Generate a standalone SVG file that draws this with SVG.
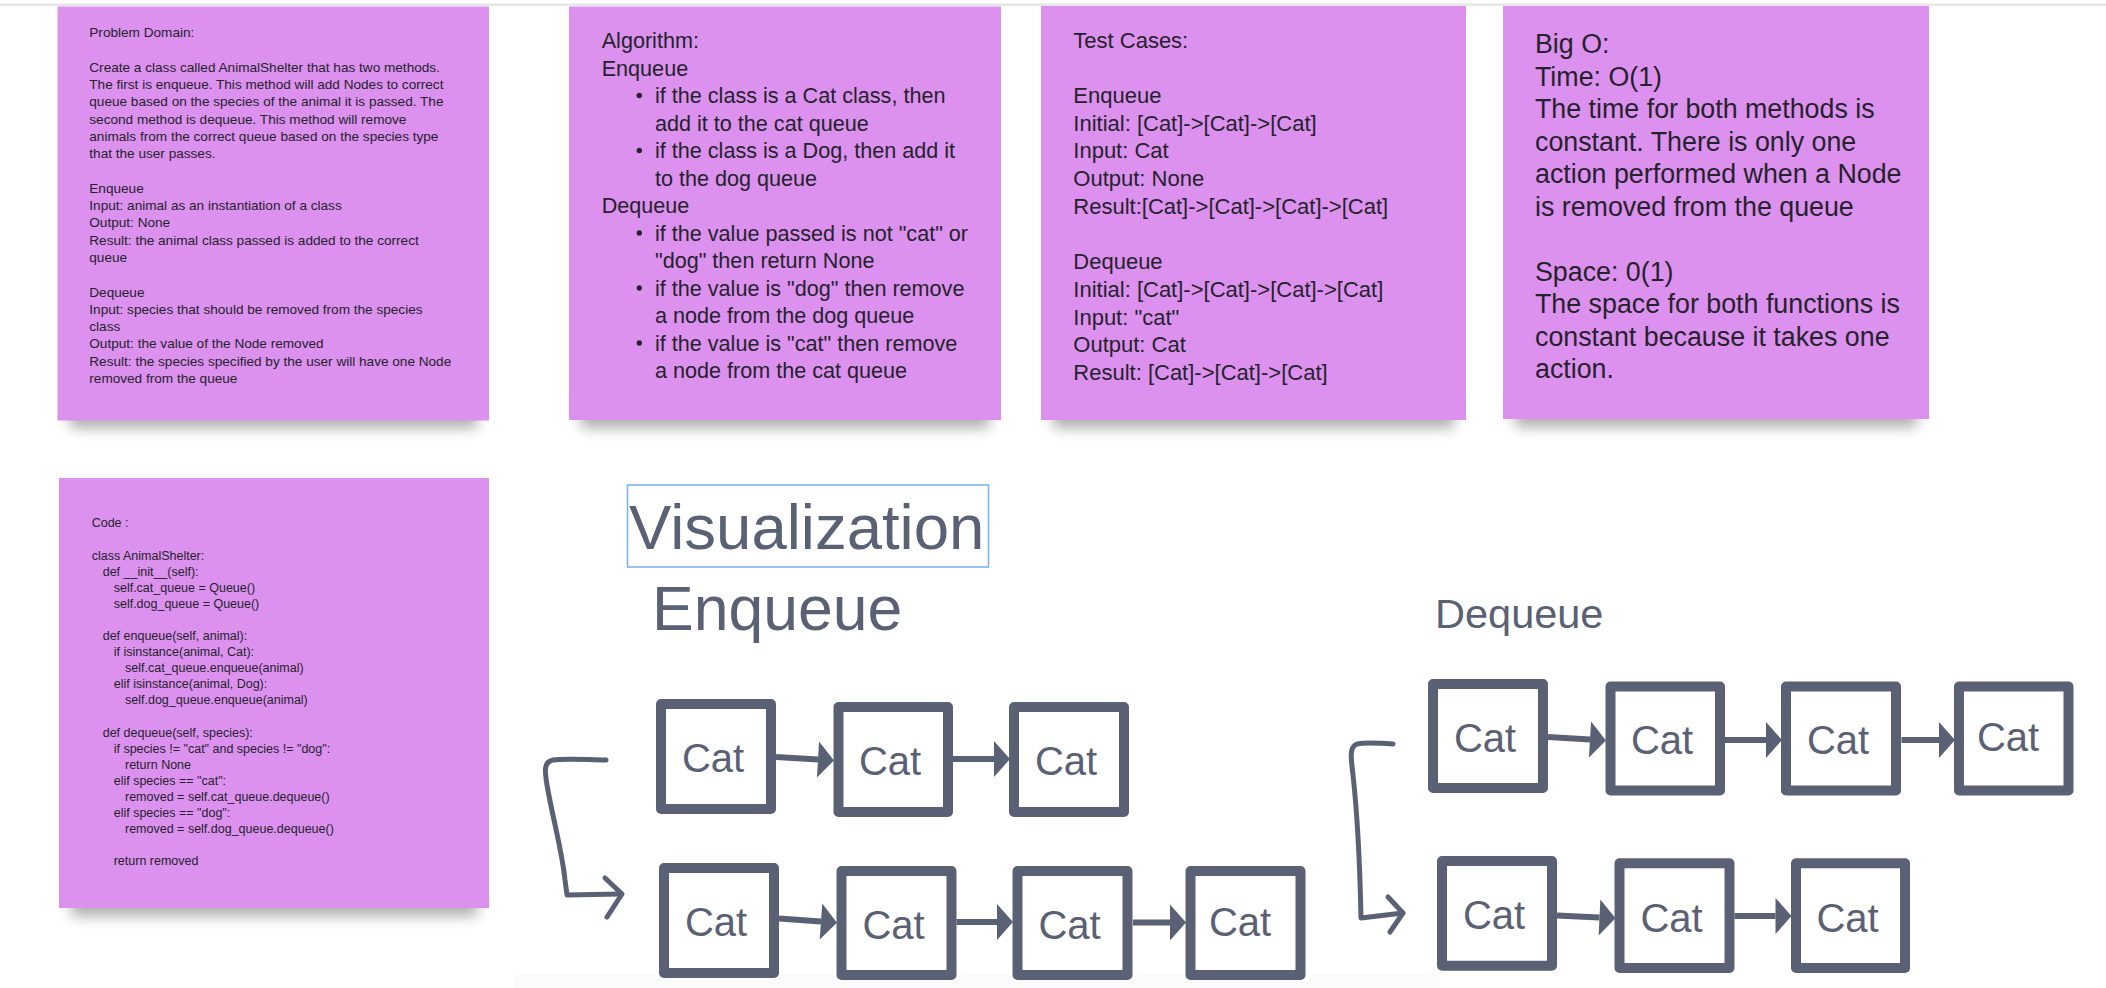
<svg xmlns="http://www.w3.org/2000/svg" width="2106" height="988" viewBox="0 0 2106 988">
<defs>
<style>
.note{fill:#DC91EE}
.nt{font-family:"Liberation Sans",Arial,sans-serif;fill:#25222d}
.n1{font-size:13.6px}
.n2{font-size:21.6px}
.n3{font-size:22px}
.n4{font-size:26.8px}
.n5{font-size:12.5px}
.shadow{fill:#000;opacity:0.32}
.box{fill:#fff;stroke:#5b6174;stroke-width:10;stroke-linejoin:round}
.cat{font-family:"Liberation Sans",Arial,sans-serif;font-size:40px;fill:#5b6174;text-anchor:middle}
.title{font-family:"Liberation Sans",Arial,sans-serif;fill:#5b6174}
.edge{stroke:#5b6174;stroke-width:6;fill:none}
.hand{stroke:#5b6174;stroke-width:5;fill:none;stroke-linecap:round;stroke-linejoin:round}
</style>
<marker id="ah" markerUnits="userSpaceOnUse" markerWidth="17" markerHeight="36" refX="0" refY="18" orient="auto" overflow="visible">
<path d="M0,0 L16,18 L0,36 Z" fill="#5b6174"/>
</marker>
<filter id="blur" x="-20%" y="-100%" width="140%" height="300%">
<feGaussianBlur stdDeviation="7"/>
</filter>
</defs>
<rect x="0" y="0" width="2106" height="988" fill="#ffffff"/>
<rect x="0" y="3.5" width="2106" height="2.5" fill="#e6e6e8"/>
<rect x="515" y="974" width="925" height="14" fill="#fbfbfc"/>

<g id="note-problem">
<rect class="shadow" x="70" y="392" width="407" height="36" filter="url(#blur)"/>
<rect class="note" x="57.5" y="6.5" width="431.5" height="414"/>
<text class="nt n1">
<tspan x="89.3" y="37">Problem Domain:</tspan>
<tspan x="89.3" y="71.6">Create a class called AnimalShelter that has two methods.</tspan>
<tspan x="89.3" y="88.9">The first is enqueue. This method will add Nodes to correct</tspan>
<tspan x="89.3" y="106.2">queue based on the species of the animal it is passed. The</tspan>
<tspan x="89.3" y="123.5">second method is dequeue. This method will remove</tspan>
<tspan x="89.3" y="140.8">animals from the correct queue based on the species type</tspan>
<tspan x="89.3" y="158.1">that the user passes.</tspan>
<tspan x="89.3" y="192.7">Enqueue</tspan>
<tspan x="89.3" y="210">Input: animal as an instantiation of a class</tspan>
<tspan x="89.3" y="227.3">Output: None</tspan>
<tspan x="89.3" y="244.6">Result: the animal class passed is added to the correct</tspan>
<tspan x="89.3" y="261.9">queue</tspan>
<tspan x="89.3" y="296.5">Dequeue</tspan>
<tspan x="89.3" y="313.8">Input: species that should be removed from the species</tspan>
<tspan x="89.3" y="331.1">class</tspan>
<tspan x="89.3" y="348.4">Output: the value of the Node removed</tspan>
<tspan x="89.3" y="365.7">Result: the species specified by the user will have one Node</tspan>
<tspan x="89.3" y="383">removed from the queue</tspan>
</text>
</g>

<g id="note-algorithm">
<rect class="shadow" x="581" y="392" width="408" height="36" filter="url(#blur)"/>
<rect class="note" x="569" y="6.5" width="432" height="413.5"/>
<g fill="#25222d">
<circle cx="639.3" cy="95.5" r="2.7"/>
<circle cx="639.3" cy="150.5" r="2.7"/>
<circle cx="639.3" cy="233" r="2.7"/>
<circle cx="639.3" cy="288" r="2.7"/>
<circle cx="639.3" cy="343" r="2.7"/>
</g>
<text class="nt n2">
<tspan x="601.7" y="48">Algorithm:</tspan>
<tspan x="601.7" y="75.5">Enqueue</tspan>
<tspan x="655" y="103">if the class is a Cat class, then</tspan>
<tspan x="655" y="130.5">add it to the cat queue</tspan>
<tspan x="655" y="158">if the class is a Dog, then add it</tspan>
<tspan x="655" y="185.5">to the dog queue</tspan>
<tspan x="601.7" y="213">Dequeue</tspan>
<tspan x="655" y="240.5">if the value passed is not "cat" or</tspan>
<tspan x="655" y="268">"dog" then return None</tspan>
<tspan x="655" y="295.5">if the value is "dog" then remove</tspan>
<tspan x="655" y="323">a node from the dog queue</tspan>
<tspan x="655" y="350.5">if the value is "cat" then remove</tspan>
<tspan x="655" y="378">a node from the cat queue</tspan>
</text>
</g>

<g id="note-tests">
<rect class="shadow" x="1053" y="392" width="401" height="36" filter="url(#blur)"/>
<rect class="note" x="1041" y="6" width="425" height="414"/>
<text class="nt n3">
<tspan x="1073.3" y="47.5">Test Cases:</tspan>
<tspan x="1073.3" y="102.9">Enqueue</tspan>
<tspan x="1073.3" y="130.6">Initial: [Cat]-&gt;[Cat]-&gt;[Cat]</tspan>
<tspan x="1073.3" y="158.3">Input: Cat</tspan>
<tspan x="1073.3" y="186">Output: None</tspan>
<tspan x="1073.3" y="213.7">Result:[Cat]-&gt;[Cat]-&gt;[Cat]-&gt;[Cat]</tspan>
<tspan x="1073.3" y="269.1">Dequeue</tspan>
<tspan x="1073.3" y="296.8">Initial: [Cat]-&gt;[Cat]-&gt;[Cat]-&gt;[Cat]</tspan>
<tspan x="1073.3" y="324.5">Input: "cat"</tspan>
<tspan x="1073.3" y="352.2">Output: Cat</tspan>
<tspan x="1073.3" y="379.9">Result: [Cat]-&gt;[Cat]-&gt;[Cat]</tspan>
</text>
</g>

<g id="note-bigo">
<rect class="shadow" x="1515" y="391" width="402" height="36" filter="url(#blur)"/>
<rect class="note" x="1503" y="6" width="426" height="413"/>
<text class="nt n4">
<tspan x="1535" y="53">Big O:</tspan>
<tspan x="1535" y="85.5">Time: O(1)</tspan>
<tspan x="1535" y="118">The time for both methods is</tspan>
<tspan x="1535" y="150.5">constant. There is only one</tspan>
<tspan x="1535" y="183">action performed when a Node</tspan>
<tspan x="1535" y="215.5">is removed from the queue</tspan>
<tspan x="1535" y="280.5">Space: 0(1)</tspan>
<tspan x="1535" y="313">The space for both functions is</tspan>
<tspan x="1535" y="345.5">constant because it takes one</tspan>
<tspan x="1535" y="378">action.</tspan>
</text>
</g>

<g id="note-code">
<rect class="shadow" x="71" y="880" width="406" height="36" filter="url(#blur)"/>
<rect class="note" x="59" y="478" width="430" height="430"/>
<text class="nt n5">
<tspan x="91.7" y="527.3">Code :</tspan>
<tspan x="91.7" y="559.5">class AnimalShelter:</tspan>
<tspan x="102.7" y="575.6">def __init__(self):</tspan>
<tspan x="113.7" y="591.7">self.cat_queue = Queue()</tspan>
<tspan x="113.7" y="607.8">self.dog_queue = Queue()</tspan>
<tspan x="102.7" y="640">def enqueue(self, animal):</tspan>
<tspan x="113.7" y="656.1">if isinstance(animal, Cat):</tspan>
<tspan x="125" y="672.2">self.cat_queue.enqueue(animal)</tspan>
<tspan x="113.7" y="688.3">elif isinstance(animal, Dog):</tspan>
<tspan x="125" y="704.4">self.dog_queue.enqueue(animal)</tspan>
<tspan x="102.7" y="736.6">def dequeue(self, species):</tspan>
<tspan x="113.7" y="752.7">if species != "cat" and species != "dog":</tspan>
<tspan x="125" y="768.8">return None</tspan>
<tspan x="113.7" y="784.9">elif species == "cat":</tspan>
<tspan x="125" y="801">removed = self.cat_queue.dequeue()</tspan>
<tspan x="113.7" y="817.1">elif species == "dog":</tspan>
<tspan x="125" y="833.2">removed = self.dog_queue.dequeue()</tspan>
<tspan x="113.7" y="865.4">return removed</tspan>
</text>
</g>

<g id="title-visualization">
<rect x="627.5" y="485" width="361" height="82" fill="none" stroke="#7fb3f3" stroke-width="1.6"/>
<text class="title" x="629" y="549" font-size="63.5">Visualization</text>
</g>
<g id="title-enqueue">
<text class="title" x="652" y="630" font-size="62.5">Enqueue</text>
</g>
<g id="title-dequeue">
<text class="title" x="1435" y="628.3" font-size="41.5">Dequeue</text>
</g>

<g id="connectors">
<path class="edge" d="M776,757 L818,759.5" marker-end="url(#ah)"/>
<path class="edge" d="M953,759 L994,759" marker-end="url(#ah)"/>
<path class="edge" d="M779,918.5 L821,921.5" marker-end="url(#ah)"/>
<path class="edge" d="M956.5,922 L997,922" marker-end="url(#ah)"/>
<path class="edge" d="M1133,922.5 L1170,922.5" marker-end="url(#ah)"/>
<path class="edge" d="M1548,737 L1590,739.5" marker-end="url(#ah)"/>
<path class="edge" d="M1725,740 L1766,740" marker-end="url(#ah)"/>
<path class="edge" d="M1901.5,740 L1939,740" marker-end="url(#ah)"/>
<path class="edge" d="M1557,915.5 L1599.5,917.5" marker-end="url(#ah)"/>
<path class="edge" d="M1734.5,916 L1775.5,916" marker-end="url(#ah)"/>
<path class="hand" d="M606,760 C590,760 565,758 553,760 C543,762 545,772 547,785 C553,820 562,850 565,880 L567,895 L621,894"/>
<path class="hand" d="M605,878 L622,894 L607,917"/>
<path class="hand" d="M1393,744 C1380,743 1365,742 1357,744 C1349,747 1351,758 1353,775 C1358,820 1360,870 1361,918 L1403,913"/>
<path class="hand" d="M1388,897 L1403,913 L1390,932"/>
</g>

<g id="enq-top-1"><rect class="box" x="661" y="704" width="110" height="105"/><text class="cat" x="713" y="772">Cat</text></g>
<g id="enq-top-2"><rect class="box" x="838.5" y="707" width="109.5" height="105"/><text class="cat" x="890" y="775">Cat</text></g>
<g id="enq-top-3"><rect class="box" x="1014" y="707" width="110" height="105"/><text class="cat" x="1066" y="775">Cat</text></g>
<g id="enq-bot-1"><rect class="box" x="664" y="868" width="110" height="105"/><text class="cat" x="716" y="936">Cat</text></g>
<g id="enq-bot-2"><rect class="box" x="841.5" y="871" width="110" height="104"/><text class="cat" x="893.5" y="938.5">Cat</text></g>
<g id="enq-bot-3"><rect class="box" x="1017.5" y="871" width="110" height="104"/><text class="cat" x="1069.5" y="938.5">Cat</text></g>
<g id="enq-bot-4"><rect class="box" x="1190.5" y="871" width="110" height="104"/><text class="cat" x="1240" y="936">Cat</text></g>
<g id="deq-top-1"><rect class="box" x="1433" y="684" width="110" height="104"/><text class="cat" x="1485" y="751.5">Cat</text></g>
<g id="deq-top-2"><rect class="box" x="1610.5" y="686.5" width="109.5" height="104"/><text class="cat" x="1662" y="754">Cat</text></g>
<g id="deq-top-3"><rect class="box" x="1786" y="686.5" width="110" height="104"/><text class="cat" x="1838" y="754">Cat</text></g>
<g id="deq-top-4"><rect class="box" x="1959" y="686.5" width="109.5" height="104"/><text class="cat" x="2008" y="750.5">Cat</text></g>
<g id="deq-bot-1"><rect class="box" x="1442" y="861" width="110" height="104.7"/><text class="cat" x="1494" y="929">Cat</text></g>
<g id="deq-bot-2"><rect class="box" x="1619.5" y="863.3" width="110" height="104.7"/><text class="cat" x="1671.5" y="931.5">Cat</text></g>
<g id="deq-bot-3"><rect class="box" x="1796" y="863.3" width="109" height="104.7"/><text class="cat" x="1847.5" y="931.5">Cat</text></g>
</svg>
